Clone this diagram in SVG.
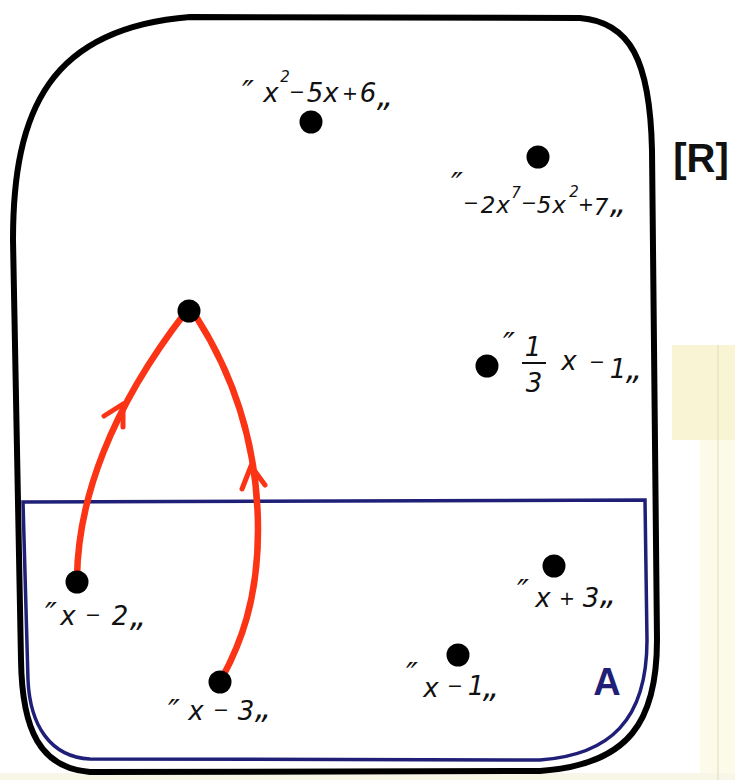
<svg xmlns="http://www.w3.org/2000/svg" width="735" height="780" viewBox="0 0 735 780">
<style>
.lbl{font-family:"DejaVu Sans","Liberation Sans",sans-serif;font-style:italic;font-size:26px;fill:#111;text-anchor:middle}
.sm{font-size:23px}
.sup{font-size:15px}
.op{font-size:19px}
.q{font-size:32px}
.dot{fill:#000}
.edge{fill:none;stroke:#fa3414;stroke-width:6.5;stroke-linecap:round;stroke-linejoin:round}
.head{fill:none;stroke:#fa3414;stroke-width:5;stroke-linecap:round;stroke-linejoin:round}
</style>
<rect width="735" height="780" fill="#fff"/>
<g id="paper">
<rect x="672" y="345" width="63" height="95" fill="#f9f4d4"/>
<rect x="700" y="440" width="35" height="340" fill="#fcfae8"/>
<rect x="0" y="773" width="735" height="7" fill="#f8f6e6"/>
<line x1="718" y1="345" x2="718" y2="780" stroke="#e3dcbd" stroke-width="1"/>
</g>
<g id="R">
<path d="M190,17 L580,18 C630,22 650,60 652,150 L657,640 C657,720 630,765 540,771 L90,772 C40,768 22,730 21,660 L13,240 C13,110 50,28 190,17 Z" fill="none" stroke="#000" stroke-width="6"/>
<text x="701" y="172" font-family="Liberation Sans,sans-serif" font-weight="bold" font-size="40" text-anchor="middle" fill="#111">[R]</text>
</g>
<g id="A">
<path d="M23,502 L645,500 L647,640 C647,720 610,755 540,760 L90,759 C50,757 30,725 28,680 Z" fill="none" stroke="#1f1f78" stroke-width="3.5"/>
<text x="607" y="695" font-family="Liberation Sans,sans-serif" font-weight="bold" font-size="38" text-anchor="middle" fill="#1f1f78">A</text>
</g>
<g id="connectors">
<path class="edge" d="M77,578 C78,500 110,410 185,313"/>
<path class="head" d="M104,416 L123,404 L123,427"/>
<path class="edge" d="M197,318 C230,370 258,440 258,530 C258,600 240,645 222,678"/>
<path class="head" d="M242,489 L251,466 L265,485"/>
</g>
<g id="n1">
<circle class="dot" cx="311" cy="122" r="11.5"/>
<text class="lbl"><tspan class="q" x="248" y="103">″</tspan><tspan x="271" y="102">x</tspan><tspan class="sup" x="285" y="82">2</tspan><tspan class="op" x="297" y="98">−</tspan><tspan x="315" y="102">5</tspan><tspan x="331" y="102">x</tspan><tspan class="op" x="350" y="100">+</tspan><tspan x="368" y="102">6</tspan><tspan class="q" x="385" y="106">„</tspan></text>
</g>
<g id="n2">
<circle class="dot" cx="538" cy="157" r="11.5"/>
<text class="lbl"><tspan class="q" x="457" y="195">″</tspan><tspan class="op" x="471" y="209">−</tspan><tspan class="sm" x="488" y="213">2</tspan><tspan class="sm" x="503" y="213">x</tspan><tspan class="sup" x="516" y="198">7</tspan><tspan class="op" x="529" y="209">−</tspan><tspan class="sm" x="544" y="213">5</tspan><tspan class="sm" x="559" y="213">x</tspan><tspan class="sup" x="574" y="197">2</tspan><tspan class="op" x="586" y="211">+</tspan><tspan class="sm" x="601" y="215">7</tspan><tspan class="q" x="618" y="213">„</tspan></text>
</g>
<g id="n3">
<circle class="dot" cx="487" cy="366" r="11.5"/>
<text class="lbl"><tspan class="q" x="509" y="355">″</tspan><tspan x="533" y="356">1</tspan><tspan x="534" y="392">3</tspan><tspan x="569" y="370">x</tspan><tspan class="op" x="597" y="368">−</tspan><tspan x="618" y="378">1</tspan><tspan class="q" x="634" y="379">„</tspan></text>
<line x1="522" y1="363" x2="546" y2="363" stroke="#111" stroke-width="2"/>
</g>
<g id="n4">
<circle class="dot" cx="189" cy="311" r="11.5"/>
</g>
<g id="n5">
<circle class="dot" cx="77" cy="582" r="11.5"/>
<text class="lbl"><tspan class="q" x="51" y="625">″</tspan><tspan x="68" y="625">x</tspan><tspan class="op" x="93" y="621">−</tspan><tspan x="120" y="625">2</tspan><tspan class="q" x="138" y="626">„</tspan></text>
</g>
<g id="n6">
<circle class="dot" cx="220" cy="682" r="11.5"/>
<text class="lbl"><tspan class="q" x="174" y="722">″</tspan><tspan x="196" y="720">x</tspan><tspan class="op" x="221" y="716">−</tspan><tspan x="246" y="720">3</tspan><tspan class="q" x="263" y="718">„</tspan></text>
</g>
<g id="n7">
<circle class="dot" cx="554" cy="566" r="11.5"/>
<text class="lbl"><tspan class="q" x="523" y="602">″</tspan><tspan x="543" y="607">x</tspan><tspan class="op" x="567" y="605">+</tspan><tspan x="591" y="607">3</tspan><tspan class="q" x="608" y="604">„</tspan></text>
</g>
<g id="n8">
<circle class="dot" cx="458" cy="655" r="11.5"/>
<text class="lbl"><tspan class="q" x="412" y="685">″</tspan><tspan x="431" y="697">x</tspan><tspan class="op" x="455" y="692">−</tspan><tspan x="476" y="695">1</tspan><tspan class="q" x="491" y="697">„</tspan></text>
</g>
</svg>
